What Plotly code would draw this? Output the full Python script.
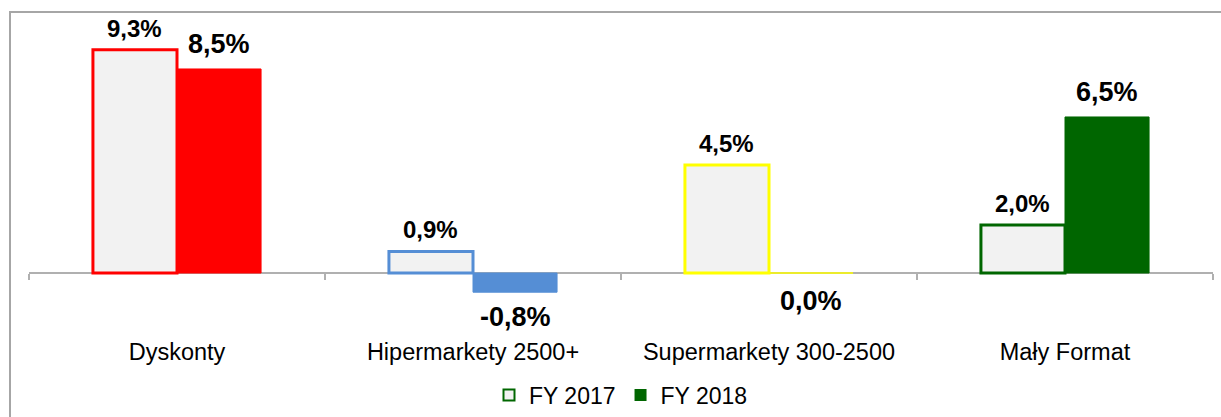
import plotly.graph_objects as go

categories = ["Dyskonty", "Hipermarkety 2500+", "Supermarkety 300-2500", "Mały Format"]
fy2017 = [9.3, 0.9, 4.5, 2.0]
fy2018 = [8.5, -0.8, 0.0, 6.5]
series_names = ["FY 2017", "FY 2018"]
cat_colors = ["#FF0000", "#558ED5", "#FFFF00", "#006600"]
legend_color = "#006600"

W, H = 1221, 417
ML, MR, MT, MB = 29, 8, 20, 97
YMIN, YMAX = -1.958, 10.54
BARGAP = 0.432
FONT = "Arial, Liberation Sans, sans-serif"

def fmt(v):
    return f"{v:.1f}".replace(".", ",") + "%"

plot_w = W - ML - MR
cat_w = plot_w / len(categories)
bar_w = cat_w * (1 - BARGAP) / 2

fig = go.Figure()
fig.add_trace(go.Bar(
    x=categories, y=fy2017, name=series_names[0], showlegend=False,
    marker=dict(color="#F2F2F2", line=dict(color=cat_colors, width=3)),
))
fig.add_trace(go.Bar(
    x=categories, y=fy2018, name=series_names[1], showlegend=False,
    marker=dict(color=cat_colors, line=dict(color=cat_colors, width=1)),
))
# legend entries
fig.add_trace(go.Scatter(
    x=[None], y=[None], mode="markers", name=series_names[0],
    marker=dict(symbol="square", size=11, color="#F2F2F2",
                line=dict(color=legend_color, width=2)),
))
fig.add_trace(go.Scatter(
    x=[None], y=[None], mode="markers", name=series_names[1],
    marker=dict(symbol="square", size=12, color=legend_color,
                line=dict(width=0)),
))

annotations = []
for c, v in zip(categories, fy2017):
    annotations.append(dict(
        x=c, y=v, xref="x", yref="y", text=fmt(v), showarrow=False,
        xshift=-bar_w / 2, yshift=6 if v >= 0 else -10,
        yanchor="bottom" if v >= 0 else "top",
        font=dict(family=FONT, size=24, color="#000000", weight="bold"),
    ))
for c, v in zip(categories, fy2018):
    annotations.append(dict(
        x=c, y=v, xref="x", yref="y", text=fmt(v), showarrow=False,
        xshift=bar_w / 2, yshift=8 if v > 0 else (-8 if v < 0 else -11),
        yanchor="bottom" if v > 0 else "top",
        font=dict(family=FONT, size=27, color="#000000", weight="bold"),
    ))

# outer frame (extends past the right and bottom edges of the image)
ph = H - MT - MB
shapes = [dict(
    type="rect", xref="paper", yref="paper",
    x0=(10 - ML) / plot_w, x1=(W + 20 - ML) / plot_w,
    y0=-(MB + 20) / ph, y1=1 + (MT - 12) / ph,
    line=dict(color="#A6A6A6", width=2), fillcolor="rgba(0,0,0,0)", layer="below",
)]

zero_pos = (0 - YMIN) / (YMAX - YMIN)

fig.update_layout(
    width=W, height=H,
    margin=dict(l=ML, r=MR, t=MT, b=MB, pad=0, autoexpand=False),
    paper_bgcolor="white", plot_bgcolor="white",
    barmode="group", bargap=BARGAP, bargroupgap=0,
    font=dict(family=FONT, size=23.5, color="#000000"),
    annotations=annotations, shapes=shapes,
    legend=dict(orientation="h", x=0.5, xanchor="center", y=-(395 - (H - MB)) / ph,
                yanchor="middle", font=dict(family=FONT, size=23, color="#000000"),
                itemwidth=30, tracegroupgap=0, bgcolor="rgba(0,0,0,0)"),
    xaxis=dict(
        type="category", anchor="free", position=zero_pos, automargin=False,
        showline=True, linecolor="#B0B0B0", linewidth=1.5,
        ticks="outside", tickson="boundaries", ticklen=6, tickcolor="#B0B0B0", tickwidth=1.5,
        showgrid=False, zeroline=False, layer="below traces",
        tickfont=dict(family=FONT, size=23.5, color="#000000"),
        ticklabelstandoff=58,
    ),
    yaxis=dict(range=[YMIN, YMAX], visible=False, showgrid=False, zeroline=False,
               automargin=False),
)

fig.write_html("out.html", config={"displayModeBar": False},
               post_script="document.body.style.margin='0';")
